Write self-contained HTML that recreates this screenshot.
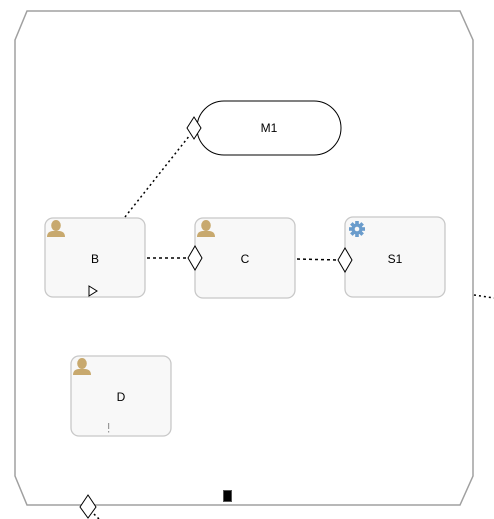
<!DOCTYPE html>
<html><head><meta charset="utf-8"><style>
html,body{margin:0;padding:0;background:#fff;width:494px;height:519px;overflow:hidden}
text{font-family:"Liberation Sans","DejaVu Sans",sans-serif;font-size:12px;fill:#000}
</style></head><body>
<svg width="494" height="519" viewBox="0 0 494 519" xmlns="http://www.w3.org/2000/svg">
<defs>
<g id="user"><ellipse cx="9" cy="5.5" rx="4.8" ry="5.5" fill="#c8a96e"/><path d="M0,17 Q0,11.5 5.5,11 L12.5,11 Q18,11.5 18,17 Z" fill="#c8a96e"/></g>
</defs>
<path d="M27,11 L460,11 L473,40 L473,476 L460,505 L27,505 L15,476 L15,40 Z" fill="#fff" stroke="#a0a0a0" stroke-width="1.5"/>
<line x1="125" y1="217" x2="190" y2="135" stroke="#000" stroke-width="1.5" stroke-dasharray="2,3"/>
<line x1="147" y1="258" x2="188" y2="258" stroke="#000" stroke-width="1.5" stroke-dasharray="3,3"/>
<line x1="297" y1="259" x2="338" y2="260" stroke="#000" stroke-width="1.5" stroke-dasharray="3,3"/>
<line x1="474" y1="295" x2="494" y2="298" stroke="#000" stroke-width="1.5" stroke-dasharray="2,3"/>
<line x1="94" y1="514" x2="99" y2="519" stroke="#000" stroke-width="1.5" stroke-dasharray="2,3"/>
<rect x="197" y="101" width="144" height="54" rx="27" fill="#fff" stroke="#000" stroke-width="1"/>
<text x="269" y="132" text-anchor="middle">M1</text>
<path d="M194,117 L201,128 L194,139 L187,128 Z" fill="#fff" stroke="#000"/>
<rect x="45" y="218" width="100" height="79" rx="8" fill="#f8f8f8" stroke="#c8c8c8" stroke-width="1.3"/>
<use href="#user" x="47" y="220"/>
<text x="95" y="263" text-anchor="middle">B</text>
<path d="M89,286 L97,291 L89,296 Z" fill="#fff" stroke="#000"/>
<rect x="195" y="218" width="100" height="80" rx="8" fill="#f8f8f8" stroke="#c8c8c8" stroke-width="1.3"/>
<use href="#user" x="197" y="220"/>
<text x="245" y="263" text-anchor="middle">C</text>
<path d="M195,246 L202,258 L195,270 L188,258 Z" fill="#fff" stroke="#000"/>
<rect x="345" y="217" width="100" height="80" rx="8" fill="#f8f8f8" stroke="#c8c8c8" stroke-width="1.3"/>
<g transform="translate(357,229)" fill="#6a9ccc">
<circle r="5.5"/>
<rect x="-1.8" y="-8" width="3.6" height="16"/>
<rect x="-8" y="-1.8" width="16" height="3.6"/>
<rect x="-1.8" y="-8" width="3.6" height="16" transform="rotate(45)"/>
<rect x="-1.8" y="-8" width="3.6" height="16" transform="rotate(-45)"/>
<circle r="2.3" fill="#f8f8f8"/>
</g>
<text x="395" y="263" text-anchor="middle">S1</text>
<path d="M345,248 L352,260 L345,272 L338,260 Z" fill="#fff" stroke="#000"/>
<rect x="71" y="356" width="100" height="80" rx="8" fill="#f8f8f8" stroke="#c8c8c8" stroke-width="1.3"/>
<use href="#user" x="73" y="358"/>
<text x="121" y="401" text-anchor="middle">D</text>
<rect x="108" y="423" width="1.2" height="6" fill="#999"/><rect x="108" y="431" width="1.2" height="1.5" fill="#999"/>
<path d="M88,495 L96,507 L88,518 L80,507 Z" fill="#fff" stroke="#000"/>
<rect x="223.5" y="490.5" width="8" height="11" fill="#000" stroke="#555"/>
</svg>
</body></html>
